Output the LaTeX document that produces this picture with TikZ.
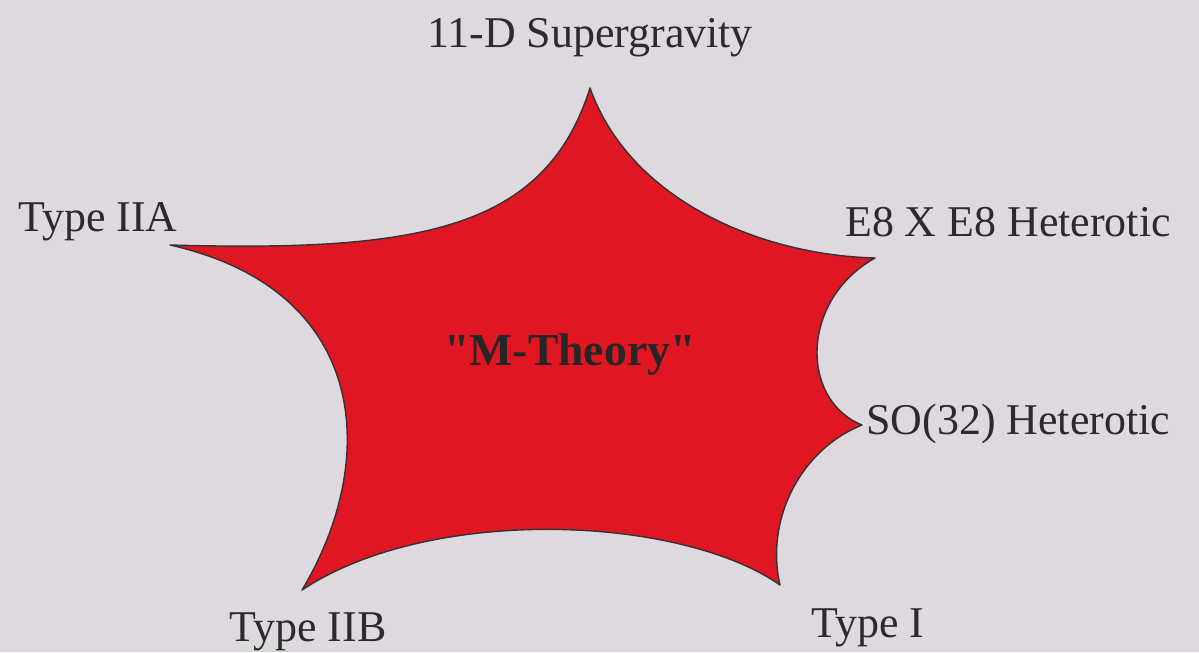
\documentclass[tikz,border=0pt]{standalone}
\usepackage{fontspec}
\setmainfont{Liberation Serif}
\newfontfamily\centrefont[Ligatures=ResetAll]{Liberation Serif}
\usepackage{xcolor}
\usetikzlibrary{positioning}

\definecolor{slidebg}{RGB}{222,217,222}
\definecolor{starred}{RGB}{224,22,34}
\definecolor{labelgray}{RGB}{45,42,45}

\begin{document}
\begin{tikzpicture}[
  x=0.02cm, y=-0.02cm,
  theory/.style={text=labelgray, font=\fontsize{25}{30}\selectfont, inner sep=0pt},
  core/.style={fill=starred, draw=black!80, line width=0.8pt, line join=round},
  centre/.style={text=black!85, font=\fontsize{26}{30}\centrefont\bfseries, inner sep=0pt}
]
\fill[slidebg] (0,0) rectangle (1199,652);
\useasboundingbox (0,0) rectangle (1199,652);

% tips of the star
\coordinate (top) at (590,88);
\coordinate (ee) at (875,258);
\coordinate (so) at (862,425);
\coordinate (one) at (780,585);
\coordinate (iib) at (302,590);
\coordinate (iia) at (170,245);

\draw[core] (top) .. controls (630,200) and (760,255) .. (ee)
  .. controls (800,300) and (800,400) .. (so)
  .. controls (800,450) and (765,520) .. (one)
  .. controls (680,515) and (430,505) .. (iib)
  .. controls (380,460) and (370,290) .. (iia)
  .. controls (420,252) and (545,230) .. (top) -- cycle;

\node[centre] (mtheory) at (570,355) {"M-Theory"};

\node[theory] (sugra) at (590,38) {11-D Supergravity};
\node[theory] (typeIIA) at (98,222) {Type IIA};
\node[theory] (heteroE) at (1008,222) {E8 X E8 Heterotic};
\node[theory, anchor=west] (heteroSO) at (866,424) {SO(32) Heterotic};
\node[theory] (typeI) at (868,628) {Type I};
\node[theory] (typeIIB) at (308,632) {Type IIB};
\end{tikzpicture}
\end{document}
